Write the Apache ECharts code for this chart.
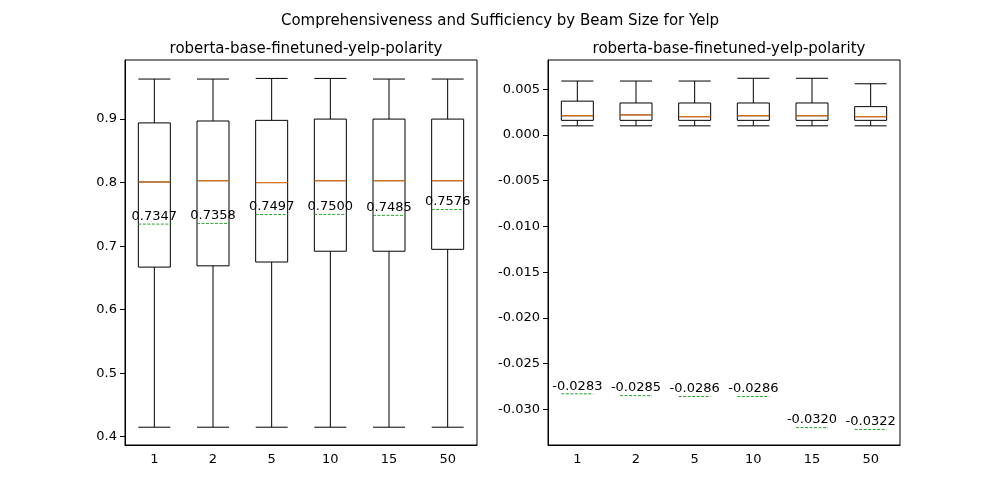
<!DOCTYPE html>
<html>
<head>
<meta charset="UTF-8">
<script src="https://cdn.jsdelivr.net/npm/echarts@6/dist/echarts.min.js"></script>
<style>body{margin:0}#c{width:1000px;height:500px}</style>
</head>
<body>
<div id="c"></div>
<script>
var beams = ['1', '2', '5', '10', '15', '50'];
// [min, Q1, median, Q3, max]
var compBoxes = [
  [0.415, 0.667, 0.801, 0.894, 0.963],
  [0.415, 0.669, 0.803, 0.897, 0.963],
  [0.415, 0.675, 0.800, 0.898, 0.964],
  [0.415, 0.692, 0.803, 0.900, 0.964],
  [0.415, 0.692, 0.803, 0.900, 0.963],
  [0.415, 0.695, 0.803, 0.900, 0.963]
];
var compMeans = [0.7347, 0.7358, 0.7497, 0.7500, 0.7485, 0.7576];
var suffBoxes = [
  [0.0010, 0.0016, 0.0021, 0.0037, 0.0059],
  [0.0010, 0.0016, 0.0022, 0.0035, 0.0059],
  [0.0010, 0.0016, 0.0020, 0.0035, 0.0059],
  [0.0010, 0.0016, 0.0021, 0.0035, 0.0062],
  [0.0010, 0.0016, 0.0021, 0.0035, 0.0062],
  [0.0010, 0.0016, 0.0020, 0.0031, 0.0056]
];
var suffMeans = [-0.0283, -0.0285, -0.0286, -0.0286, -0.0320, -0.0322];

var font = 'DejaVu Sans';
function hLine(color, dashed, withText) {
  return function (params, api) {
    var c = api.coord([api.value(0), api.value(1)]);
    var half = 16;
    var kids = [{
      type: 'line',
      shape: {x1: c[0] - half, y1: c[1], x2: c[0] + half, y2: c[1]},
      style: {stroke: color, lineWidth: 1, lineDash: dashed ? [3, 1.5] : null}
    }];
    if (withText) {
      kids.push({
        type: 'text',
        style: {text: api.value(1).toFixed(4), x: c[0], y: c[1] - 1, align: 'center', verticalAlign: 'bottom',
          fill: '#000', font: '13px ' + font}
      });
    }
    return {type: 'group', children: kids};
  };
}
function series(idx, boxes, means) {
  return [
    {type: 'boxplot', xAxisIndex: idx, yAxisIndex: idx, data: boxes, boxWidth: [32, 32],
      itemStyle: {color: '#fff', borderColor: '#000', borderWidth: 1}, silent: true},
    {type: 'custom', xAxisIndex: idx, yAxisIndex: idx, renderItem: hLine('#ff7f0e', false, false),
      data: boxes.map(function (b, i) { return [i, b[2]]; }), z: 5},
    {type: 'custom', xAxisIndex: idx, yAxisIndex: idx, renderItem: hLine('#2ca02c', true, true),
      data: means.map(function (m, i) { return [i, m]; }), z: 6}
  ];
}
function yAx(idx, min, max, split, fmt) {
  return {type: 'value', gridIndex: idx, min: min, max: max, splitNumber: split, scale: true,
    splitLine: {show: false}, axisLine: {show: true, lineStyle: {color: '#000'}},
    axisTick: {show: true, lineStyle: {color: '#000'}},
    axisLabel: {color: '#000', fontFamily: font, fontSize: 13, showMinLabel: false, showMaxLabel: false, formatter: fmt}};
}
function xAx(idx) {
  return {type: 'category', gridIndex: idx, data: beams, boundaryGap: true,
    axisLine: {onZero: false, lineStyle: {color: '#000'}}, axisTick: {alignWithLabel: true, lineStyle: {color: '#000'}},
    axisLabel: {color: '#000', fontFamily: font, fontSize: 13}};
}
var chart = echarts.init(document.getElementById('c'));
chart.setOption({
  animation: false,
  backgroundColor: '#fff',
  title: [
    {text: 'Comprehensiveness and Sufficiency by Beam Size for Yelp', left: 'center', top: 9,
      textStyle: {fontFamily: font, fontSize: 15, fontWeight: 'normal', color: '#000'}},
    {text: 'roberta-base-finetuned-yelp-polarity', left: 301, top: 37, textAlign: 'center',
      textStyle: {fontFamily: font, fontSize: 15, fontWeight: 'normal', color: '#000'}},
    {text: 'roberta-base-finetuned-yelp-polarity', left: 724, top: 37, textAlign: 'center',
      textStyle: {fontFamily: font, fontSize: 15, fontWeight: 'normal', color: '#000'}}
  ],
  grid: [
    {left: 125, top: 60, width: 352, height: 385, show: true, borderColor: '#000', borderWidth: 1},
    {left: 548, top: 60, width: 352, height: 385, show: true, borderColor: '#000', borderWidth: 1}
  ],
  xAxis: [xAx(0), xAx(1)],
  yAxis: [
    yAx(0, 0.387, 0.993, 6, function (v) { return v.toFixed(1); }),
    yAx(1, -0.0339, 0.0082, 8, function (v) { return v.toFixed(3); })
  ],
  series: series(0, compBoxes, compMeans).concat(series(1, suffBoxes, suffMeans))
});
</script>
</body>
</html>
